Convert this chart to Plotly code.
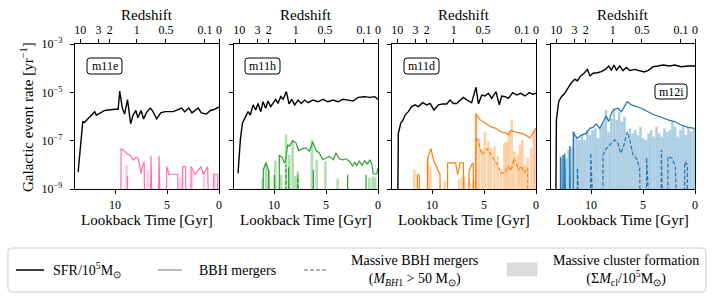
import plotly.graph_objects as go

# ---------------- data: (lookback time [Gyr], log10 rate [yr^-1]); None = zero rate ----------------
panel_names = ["m11e", "m11h", "m11d", "m12i"]
panel_colors = ["#ff6eb4", "#2ca02c", "#ff7f0e", "#1f77b4"]

lookback_ticks = [10, 5, 0]
redshift_labels = ["10", "3", "2", "1", "0.5", "0.1", "0"]
redshift_lookback = [13.35, 11.6, 10.5, 7.9, 5.1, 1.35, 0.0]
rate_ticks = [1e-9, 1e-7, 1e-5, 1e-3]
rate_ticktext = ["10<sup>−9</sup>", "10<sup>−7</sup>", "10<sup>−5</sup>", "10<sup>−3</sup>"]

# ---- m11e ----
m11e_sfr = [(13.55, -8.3), (13.1, -6.2), (12.95, -6.25), (12.6, -6.1), (11.95, -5.8), (11.8, -5.95),
            (11.0, -5.75), (10.0, -5.7), (9.7, -5.7), (9.55, -4.95), (9.3, -5.65), (9.08, -5.9),
            (8.8, -5.3), (8.5, -6.3), (8.27, -5.95), (8.0, -5.75), (7.8, -6.05), (7.5, -5.75),
            (7.25, -6.1), (7.0, -5.85), (6.6, -5.65), (6.35, -5.8), (6.0, -6.1), (5.6, -5.85),
            (5.2, -5.8), (4.4, -5.8), (3.6, -5.65), (3.3, -5.8), (2.9, -5.65), (2.6, -5.85),
            (2.0, -5.65), (1.7, -5.85), (1.2, -5.9), (0.83, -5.75), (0.42, -5.7), (0.0, -5.6)]
m11e_bbh = [(9.5, None), (9.42, -7.34), (9.2, -7.39), (8.78, -7.57), (8.56, -7.59), (8.24, -7.8),
            (8.01, -7.69), (7.76, -7.73), (7.5, -8.35), (7.34, -8.0), (7.2, -7.9), (7.15, None),
            (6.9, None), (6.54, -7.62), (6.2, None), (6.05, None), (5.77, -7.62), (5.5, None),
            (5.08, None), (5.03, -8.07), (4.81, -8.39), (3.97, -8.39), (3.93, None), (3.53, None),
            (3.49, -8.07), (3.21, -8.07), (3.17, None), (2.73, None), (2.69, -8.07), (2.31, -8.39),
            (1.73, -8.07), (1.51, -8.39), (1.09, -8.07), (1.02, None), (0.55, None), (0.51, -8.39),
            (0.13, -8.39), (0.09, None), (0.0, None)]
m11e_massive = [(8.95, None), (8.8, -8.45), (8.65, None)]
m11e_cluster = [(8.9, -8.0), (6.86, -8.21), (3.7, -8.55), (2.6, -8.28), (1.45, -8.3), (0.45, -8.4)]

# ---- m11h ----
m11h_sfr = [(13.46, -8.35), (13.24, -6.97), (13.04, -6.28), (12.82, -6.08), (12.5, -5.8), (12.28, -5.94),
            (12.02, -5.52), (11.76, -5.73), (11.54, -5.46), (11.28, -5.8), (11.06, -5.39), (10.8, -5.66),
            (10.58, -5.36), (10.32, -5.59), (10.1, -5.43), (9.84, -5.29), (9.62, -5.46), (9.36, -5.18),
            (9.13, -5.29), (8.81, -4.97), (8.56, -5.48), (8.3, -5.29), (8.01, -5.52), (7.69, -5.32),
            (7.37, -5.46), (7.05, -5.32), (6.73, -5.43), (6.25, -5.32), (5.77, -5.39), (5.29, -5.29),
            (4.81, -5.39), (4.33, -5.32), (3.85, -5.39), (3.37, -5.29), (2.88, -5.32), (2.4, -5.36),
            (1.92, -5.21), (1.28, -5.18), (0.8, -5.21), (0.32, -5.18), (0.0, -5.29)]
m11h_bbh = [(11.15, None), (11.03, -8.2), (10.77, -7.9), (10.51, -8.27), (10.45, None), (10.0, None),
            (9.97, -8.41), (9.92, None), (9.55, None), (9.49, -7.6), (9.23, -7.69), (9.0, -7.92),
            (8.91, -7.85), (8.69, -7.17), (8.53, -7.23), (8.21, -7.0), (7.88, -7.1), (7.63, -7.41),
            (7.24, -7.33), (6.92, -7.3), (6.6, -7.44), (6.28, -7.05), (5.96, -7.41), (5.64, -7.51),
            (5.32, -7.79), (5.0, -7.72), (4.68, -7.65), (4.29, -7.79), (4.04, -7.51), (3.72, -7.75),
            (3.4, -7.79), (3.08, -7.75), (2.76, -7.85), (2.44, -8.06), (2.24, -7.88), (2.05, -8.02),
            (1.79, -7.85), (1.54, -8.02), (1.28, -7.83), (1.03, -7.96), (0.77, -7.79), (0.58, -7.99),
            (0.45, -8.38), (0.13, -8.38), (0.0, -8.13)]
m11h_massive = [(9.0, None), (8.85, -8.0), (8.75, None), (8.6, -8.1), (8.45, None), (7.85, None),
                (7.72, -8.41), (7.6, None), (6.35, None), (6.22, -8.2), (6.1, None), (3.05, None),
                (2.92, -8.41), (2.8, None), (1.28, None), (1.15, -8.41), (1.02, None)]
m11h_cluster = [(11.09, -8.54), (10.77, -7.99), (10.51, -8.2), (9.87, -7.83), (9.33, -8.41), (8.85, -6.75),
                (8.53, -7.58), (8.21, -7.03), (7.95, -8.47), (7.72, -8.27), (6.35, -6.96), (5.9, -7.79),
                (5.06, -7.85), (3.88, -8.57), (0.83, -8.54), (0.51, -8.47), (0.26, -8.52)]

# ---- m11d ----
m11d_sfr = [(13.5, None), (13.24, -6.7), (13.01, -6.28), (12.76, -6.12), (12.6, -5.94), (12.28, -5.8),
            (11.96, -5.59), (11.63, -5.52), (11.31, -5.59), (10.9, -5.43), (10.51, -5.52), (10.19, -5.46),
            (9.81, -5.73), (9.39, -5.52), (8.97, -5.48), (8.59, -5.48), (8.27, -5.32), (7.95, -5.46),
            (7.63, -5.46), (7.31, -5.34), (6.99, -5.21), (6.6, -5.32), (6.19, -5.43), (5.77, -4.79),
            (5.54, -5.48), (5.22, -5.11), (4.9, -5.15), (4.58, -5.04), (4.26, -5.25), (3.85, -4.97),
            (3.53, -5.52), (3.3, -5.15), (2.98, -5.18), (2.66, -5.25), (2.24, -5.01), (1.86, -5.11),
            (1.47, -5.04), (1.06, -5.15), (0.64, -5.01), (0.32, -5.08), (0.0, -5.04)]
m11d_bbh = [(11.5, None), (11.41, -8.41), (11.25, -8.41), (11.2, None), (10.5, None), (10.42, -7.72),
            (10.1, -7.33), (9.87, -7.79), (9.55, -8.13), (9.23, -8.41), (9.14, None), (8.55, None),
            (8.5, -7.92), (7.73, -7.92), (7.53, -8.41), (7.31, -7.92), (6.99, -7.92), (6.92, None),
            (6.5, None), (6.44, -8.27), (6.19, -7.99), (6.03, -7.92), (5.9, None), (5.77, -5.9),
            (5.39, -6.13), (4.9, -6.27), (4.42, -6.41), (3.94, -6.48), (3.46, -6.61), (2.98, -6.68),
            (2.6, -6.75), (2.41, -6.58), (2.02, -6.64), (1.54, -6.68), (1.06, -6.75), (0.58, -6.89),
            (0.26, -6.68), (0.0, -6.48)]
m11d_massive = [(5.8, None), (5.77, -6.86), (5.55, -7.03), (5.23, -7.58), (4.9, -7.44), (4.65, -7.33),
                (4.33, -7.58), (4.0, -7.83), (3.69, -7.99), (3.37, -8.34), (2.98, -8.34), (2.72, -8.06),
                (2.41, -8.24), (2.09, -7.72), (1.7, -8.2), (1.38, -8.06), (1.12, -8.34), (0.8, -8.13),
                (0.7, None)]
m11d_cluster = [(11.7, -8.2), (10.42, -7.72), (10.17, -8.06), (8.75, -8.68), (7.4, -8.6), (7.1, -8.5),
                (6.9, -8.48), (6.44, -8.54), (6.02, -8.61), (5.77, -5.85), (5.48, -6.89), (5.16, -7.37),
                (4.9, -6.64), (4.58, -7.03), (4.33, -7.3), (4.0, -7.23), (3.69, -7.65), (3.37, -8.2),
                (3.04, -7.1), (2.82, -7.03), (2.6, -6.61), (2.34, -6.13), (2.09, -7.44), (1.76, -7.58),
                (1.54, -7.17), (1.31, -6.96), (1.06, -7.99), (0.8, -7.72), (0.48, -7.3), (0.22, -6.58),
                (0.05, -6.48)]

# ---- m12i ----
m12i_sfr = [(13.56, None), (13.33, -6.14), (13.11, -5.39), (12.85, -5.18), (12.53, -5.04), (12.21, -4.83),
            (11.89, -4.6), (11.57, -4.46), (11.31, -4.52), (10.99, -4.32), (10.67, -4.21), (10.35, -4.05),
            (10.1, -4.32), (9.81, -4.21), (9.39, -4.19), (9.01, -4.14), (8.62, -4.05), (8.3, -3.91),
            (8.04, -4.08), (7.79, -3.87), (7.56, -4.08), (7.24, -3.91), (6.92, -4.1), (6.6, -3.97),
            (6.28, -4.1), (5.8, -4.05), (5.32, -4.1), (4.9, -4.16), (4.52, -4.1), (4.04, -3.94),
            (3.56, -3.91), (3.08, -3.87), (2.44, -3.91), (1.96, -3.87), (1.31, -3.94), (0.67, -3.91),
            (0.0, -3.91)]
m12i_bbh = [(13.0, None), (12.92, -7.69), (12.8, None), (12.69, -7.59), (12.6, None), (12.53, -7.52),
            (12.45, None), (12.1, None), (12.05, -7.22), (12.0, None), (11.75, None), (11.7, -6.63),
            (11.57, -6.77), (11.31, -6.9), (10.93, -6.77), (10.45, -6.7), (10.13, -6.49), (9.81, -6.45),
            (9.49, -6.31), (9.17, -6.49), (8.85, -6.26), (8.53, -5.98), (8.3, -6.21), (7.98, -5.8),
            (7.72, -5.7), (7.4, -5.66), (7.08, -5.8), (6.76, -5.59), (6.51, -5.39), (6.12, -5.52),
            (5.64, -5.59), (5.16, -5.66), (4.52, -5.8), (3.88, -5.94), (3.24, -6.03), (2.6, -6.14),
            (1.96, -6.21), (1.31, -6.35), (0.67, -6.45), (0.0, -6.49)]
m12i_massive = [(11.4, None), (11.31, -8.14), (11.22, None), (10.1, None), (10.03, -7.52), (9.96, None),
                (8.9, None), (8.85, -7.59), (8.53, -7.32), (8.04, -7.11), (7.72, -6.97), (7.4, -7.11),
                (7.15, -7.52), (6.92, -7.32), (6.7, -6.97), (6.51, -6.63), (6.28, -6.97), (5.96, -7.59),
                (5.64, -7.73), (5.32, -8.14), (5.0, None), (4.72, None), (4.65, -7.7), (4.58, None),
                (3.3, None), (3.24, -7.39), (3.18, None), (2.7, None), (2.6, -7.66), (2.21, -7.73),
                (1.89, -8.08), (1.63, None), (1.1, None), (0.99, -7.87), (0.74, -8.0), (0.65, None)]
m12i_cluster_t = [12.92, 12.66, 12.41, 12.15, 11.9, 11.64, 11.38, 11.13, 10.87, 10.62, 10.36, 10.1, 9.85,
                  9.59, 9.34, 9.08, 8.82, 8.57, 8.31, 8.06, 7.8, 7.54, 7.29, 7.03, 6.78, 6.52, 6.26,
                  6.01, 5.75, 5.5, 5.24, 4.98, 4.73, 4.47, 4.22, 3.96, 3.7, 3.45, 3.19, 2.94, 2.68,
                  2.42, 2.17, 1.91, 1.66, 1.4, 1.14, 0.89, 0.63, 0.38, 0.12]
m12i_cluster_v = [-7.66, -7.59, -7.73, -7.39, -7.25, -6.63, -6.83, -6.97, -6.77, -6.97, -6.56, -6.77, -6.56,
                  -6.49, -6.9, -6.42, -6.28, -5.73, -6.63, -6.08, -5.66, -6.14, -5.8, -6.21, -6.01, -6.83,
                  -6.49, -6.7, -6.56, -6.77, -6.42, -6.9, -6.97, -6.7, -6.56, -6.83, -6.42, -6.7, -6.83,
                  -6.49, -6.63, -6.56, -6.21, -6.42, -6.83, -6.56, -6.35, -6.77, -6.42, -6.63, -6.49]
m12i_cluster = list(zip(m12i_cluster_t, m12i_cluster_v))

panels = [
    dict(sfr=m11e_sfr, bbh=m11e_bbh, massive=m11e_massive, cluster=m11e_cluster),
    dict(sfr=m11h_sfr, bbh=m11h_bbh, massive=m11h_massive, cluster=m11h_cluster),
    dict(sfr=m11d_sfr, bbh=m11d_bbh, massive=m11d_massive, cluster=m11d_cluster),
    dict(sfr=m12i_sfr, bbh=m12i_bbh, massive=m12i_massive, cluster=m12i_cluster),
]

# ---------------- helpers ----------------
W, H = 716, 297
ZERO = 1e-20   # zero rate is clipped far below the log axis (like matplotlib)
FONT = "Liberation Serif"


def split(pairs):
    t = [p[0] for p in pairs]
    v = [ZERO if p[1] is None else 10 ** p[1] for p in pairs]
    return t, v


def hexrgba(h, a):
    h = h.lstrip("#")
    return "rgba(%d,%d,%d,%.2f)" % (int(h[0:2], 16), int(h[2:4], 16), int(h[4:6], 16), a)


def px(x):
    return x / W


def py(y):
    return 1 - y / H


def rounded_box(x0, y0, x1, y1, r=3):
    # path in paper coordinates (pixel inputs, y downwards)
    P = lambda x, y: "%.5f,%.5f" % (px(x), py(y))
    return ("M" + P(x0 + r, y0) + " L" + P(x1 - r, y0) + " Q" + P(x1, y0) + " " + P(x1, y0 + r) +
            " L" + P(x1, y1 - r) + " Q" + P(x1, y1) + " " + P(x1 - r, y1) +
            " L" + P(x0 + r, y1) + " Q" + P(x0, y1) + " " + P(x0, y1 - r) +
            " L" + P(x0, y0 + r) + " Q" + P(x0, y0) + " " + P(x0 + r, y0) + " Z")


panel_px = [(75, 219), (234, 378), (392, 536), (551, 695)]
y_dom = [py(189), py(44)]
label_box = [(87, 58, 122, 74), (245, 58, 280, 74), (404, 58, 439, 74), (655, 84, 687, 99)]

fig = go.Figure()
layout = dict(
    width=W, height=H, margin=dict(l=0, r=0, t=0, b=0, autoexpand=False),
    paper_bgcolor="white", plot_bgcolor="white", showlegend=False,
    font=dict(family=FONT, size=11, color="black"),
    barmode="overlay",
)
annotations = []
shapes = []

for i, (pdata, color, name) in enumerate(zip(panels, panel_colors, panel_names)):
    xb, yb, xt = f"x{i+1}", f"y{i+1}", f"x{i+5}"
    ct, cv = split(pdata["cluster"])
    fig.add_trace(go.Bar(x=ct, y=cv, base=ZERO, width=0.25,
                         marker=dict(color=hexrgba(color, 0.36), line=dict(width=0)),
                         xaxis=xb, yaxis=yb, hoverinfo="skip"))
    mt, mv = split(pdata["massive"])
    fig.add_trace(go.Scatter(x=mt, y=mv, mode="lines", line=dict(color=color, width=1.2, dash="4px,2px"),
                             xaxis=xb, yaxis=yb, hoverinfo="skip"))
    bt, bv = split(pdata["bbh"])
    fig.add_trace(go.Scatter(x=bt, y=bv, mode="lines", line=dict(color=color, width=1.2),
                             xaxis=xb, yaxis=yb, hoverinfo="skip"))
    st, sv = split(pdata["sfr"])
    fig.add_trace(go.Scatter(x=st, y=sv, mode="lines", line=dict(color="black", width=1.4),
                             xaxis=xb, yaxis=yb, hoverinfo="skip"))
    fig.add_trace(go.Scatter(x=[None], y=[None], mode="lines", xaxis=xt, yaxis=yb, hoverinfo="skip"))

    x0, x1 = panel_px[i]
    kx = "xaxis" if i == 0 else f"xaxis{i+1}"
    ky = "yaxis" if i == 0 else f"yaxis{i+1}"
    layout[kx] = dict(domain=[px(x0), px(x1)], range=[13.85, 0], anchor=yb, automargin=False,
                      tickmode="array", tickvals=lookback_ticks, ticktext=[str(v) for v in lookback_ticks],
                      ticks="outside", ticklen=4, tickwidth=1, tickcolor="black",
                      showline=True, linecolor="black", linewidth=1.2, mirror=True,
                      showgrid=False, zeroline=False, tickfont=dict(size=12))
    layout[f"xaxis{i+5}"] = dict(overlaying=xb, side="top", anchor=yb, range=[13.85, 0], automargin=False,
                                 tickmode="array", tickvals=redshift_lookback, ticktext=redshift_labels,
                                 ticks="outside", ticklen=4, tickwidth=1, tickcolor="black",
                                 showline=False, showgrid=False, zeroline=False, tickfont=dict(size=12))
    layout[ky] = dict(domain=y_dom, type="log", range=[-9, -3], anchor=xb, automargin=False,
                      tickmode="array", tickvals=rate_ticks, ticktext=rate_ticktext,
                      showticklabels=(i == 0), ticks="outside", ticklen=4, tickwidth=1, tickcolor="black",
                      showline=True, linecolor="black", linewidth=1.2, mirror=True,
                      showgrid=False, zeroline=False, tickfont=dict(size=12), ticklabelstandoff=5)

    cx = (x0 + x1) / 2
    annotations.append(dict(text="Redshift", x=px(cx), y=py(15), xref="paper", yref="paper",
                            showarrow=False, font=dict(size=15), xanchor="center", yanchor="middle"))
    annotations.append(dict(text="Lookback Time [Gyr]", x=px(cx), y=py(220), xref="paper", yref="paper",
                            showarrow=False, font=dict(size=15), xanchor="center", yanchor="middle"))
    bx0, by0, bx1, by1 = label_box[i]
    shapes.append(dict(type="path", xref="paper", yref="paper", path=rounded_box(bx0, by0, bx1, by1),
                       line=dict(color="black", width=1), fillcolor="white", layer="above"))
    annotations.append(dict(text=name, x=px((bx0 + bx1) / 2), y=py((by0 + by1) / 2), xref="paper", yref="paper",
                            showarrow=False, font=dict(size=12), xanchor="center", yanchor="middle"))

annotations.append(dict(text="Galactic event rate [yr<sup>−1</sup>]", x=px(27), y=py(117), xref="paper",
                        yref="paper", showarrow=False, textangle=-90, font=dict(size=15),
                        xanchor="center", yanchor="middle"))

# ---------------- legend (drawn manually) ----------------
LF = 14
shapes.append(dict(type="path", xref="paper", yref="paper", path=rounded_box(8, 248, 706, 292, r=4),
                   line=dict(color="#cccccc", width=1), fillcolor="white", layer="below"))
ly = 270
shapes.append(dict(type="line", xref="paper", yref="paper", x0=px(16), x1=px(44), y0=py(ly), y1=py(ly),
                   line=dict(color="black", width=1.5)))
annotations.append(dict(text="SFR/10<sup>5</sup>M<sub>⊙</sub>", x=px(51), y=py(ly), xref="paper", yref="paper",
                        showarrow=False, xanchor="left", yanchor="middle", font=dict(size=LF)))
shapes.append(dict(type="line", xref="paper", yref="paper", x0=px(158), x1=px(182), y0=py(ly), y1=py(ly),
                   line=dict(color="#999999", width=1.3)))
annotations.append(dict(text="BBH mergers", x=px(197), y=py(ly), xref="paper", yref="paper",
                        showarrow=False, xanchor="left", yanchor="middle", font=dict(size=LF)))
shapes.append(dict(type="line", xref="paper", yref="paper", x0=px(304), x1=px(328), y0=py(ly), y1=py(ly),
                   line=dict(color="#999999", width=1.3, dash="4px,2px")))
annotations.append(dict(text="Massive BBH mergers<br>(<i>M</i><sub><i>BH</i>1</sub> > 50 M<sub>⊙</sub>)",
                        x=px(414), y=py(ly), xref="paper", yref="paper", showarrow=False,
                        xanchor="center", yanchor="middle", align="center", font=dict(size=LF)))
shapes.append(dict(type="rect", xref="paper", yref="paper", x0=px(507), x1=px(537), y0=py(276), y1=py(263),
                   line=dict(color="#cfcfcf", width=0.5), fillcolor="#dcdcdc"))
annotations.append(dict(text="Massive cluster formation<br>(Σ<i>M</i><sub>cl</sub>/10<sup>5</sup>M<sub>⊙</sub>)",
                        x=px(626), y=py(ly), xref="paper", yref="paper", showarrow=False,
                        xanchor="center", yanchor="middle", align="center", font=dict(size=LF)))

layout["annotations"] = annotations
layout["shapes"] = shapes
fig.update_layout(**layout)
fig.write_html("out.html", config={"displayModeBar": False},
               post_script="document.body.style.margin='0';")
